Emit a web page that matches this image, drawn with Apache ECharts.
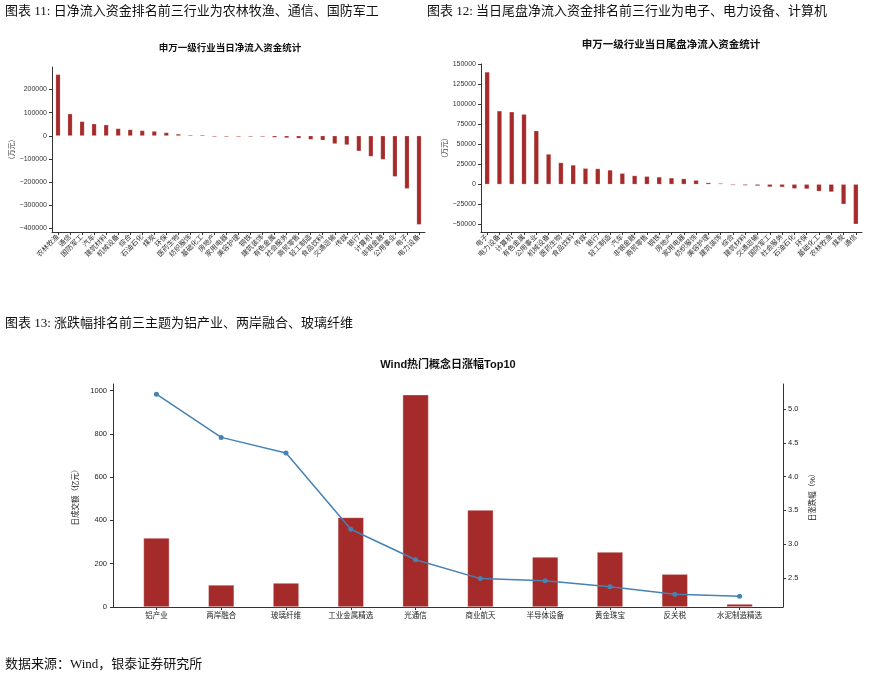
<!DOCTYPE html>
<html>
<head>
<meta charset="utf-8">
<script src="https://cdn.jsdelivr.net/npm/echarts@6/dist/echarts.min.js"></script>
<style>
  html, body { margin: 0; padding: 0; background: #fff; }
  #main { width: 875px; height: 677px; }
</style>
</head>
<body>
<div id="main"></div>
<script>
// 图表11 申万一级行业当日净流入资金（万元）
const cats1 = ["农林牧渔", "通信", "国防军工", "汽车", "建筑材料", "机械设备", "综合", "石油石化", "煤炭", "环保",
  "医药生物", "纺织服饰", "基础化工", "房地产", "家用电器", "美容护理", "钢铁", "建筑装饰", "有色金属", "社会服务",
  "商贸零售", "轻工制造", "食品饮料", "交通运输", "传媒", "银行", "计算机", "非银金融", "公用事业", "电子", "电力设备"];
const flow1 = [265000, 95000, 62000, 52000, 47500, 31500, 27000, 23000, 20000, 14000,
  8000, 600, 300, -500, -1000, -2000, -2500, -3500, -7000, -9000,
  -11000, -16000, -19000, -34500, -39000, -66000, -89000, -102000, -176000, -228000, -383000];
const ticks1 = [-400000, -300000, -200000, -100000, 0, 100000, 200000];

// 图表12 当日尾盘净流入资金（万元）
const cats2 = ["电子", "电力设备", "计算机", "有色金属", "公用事业", "机械设备", "医药生物", "食品饮料", "传媒", "银行",
  "轻工制造", "汽车", "非银金融", "商贸零售", "钢铁", "房地产", "家用电器", "纺织服饰", "美容护理", "建筑装饰",
  "综合", "建筑材料", "交通运输", "国防军工", "社会服务", "石油石化", "环保", "基础化工", "农林牧渔", "煤炭", "通信"];
const flow2 = [140000, 91500, 90300, 87300, 66700, 37600, 27000, 24000, 19900, 19500,
  17800, 13700, 10800, 9900, 9100, 7900, 7000, 5000, 2000, 500,
  -500, -1500, -2000, -3300, -3500, -5400, -5800, -8700, -9500, -24800, -49700];
const ticks2 = [-50000, -25000, 0, 25000, 50000, 75000, 100000, 125000, 150000];

// 图表13 Wind热门概念
const cats3 = ["铝产业", "两岸融合", "玻璃纤维", "工业金属精选", "光通信", "商业航天", "半导体设备", "黄金珠宝", "反关税", "水泥制造精选"];
const amount3 = [319, 102, 111, 414, 981, 448, 231, 254, 152, 14];   // 日成交额（亿元）
const pct3 = [5.22, 4.58, 4.35, 3.22, 2.77, 2.49, 2.46, 2.37, 2.26, 2.23]; // 日涨跌幅（%）
const ticks3L = [0, 200, 400, 600, 800, 1000];
const ticks3R = [2.5, 3.0, 3.5, 4.0, 4.5, 5.0];

const barColor = "#a52a2a";
const axisColor = "#333";
const cjk = "'Liberation Sans', 'Noto Sans CJK SC', sans-serif";
const serif = "'Liberation Serif', 'Noto Sans CJK SC', serif";
const minus = (v) => (v < 0 ? "\u2212" + (-v) : "" + v);

const chart = echarts.init(document.getElementById("main"));

function txt(x, y, text, font, align) {
  return {
    type: "text", x: x, y: y, silent: true,
    style: { text: text, font: font, fill: "#111", align: align || "left", verticalAlign: "middle" },
  };
}

// 轴线不过零点，贴着坐标系边缘
function baseAxisLine() {
  return { show: true, onZero: false, lineStyle: { color: axisColor, width: 1 } };
}

chart.setOption({
  animation: false,
  textStyle: { fontFamily: cjk },
  graphic: [
    txt(5, 12, "图表 11: 日净流入资金排名前三行业为农林牧渔、通信、国防军工", "13px " + serif),
    txt(427, 12, "图表 12: 当日尾盘净流入资金排名前三行业为电子、电力设备、计算机", "13px " + serif),
    txt(230, 48, "申万一级行业当日净流入资金统计", "bold 9.5px " + cjk, "center"),
    txt(671, 45, "申万一级行业当日尾盘净流入资金统计", "bold 10.5px " + cjk, "center"),
    txt(5, 324, "图表 13: 涨跌幅排名前三主题为铝产业、两岸融合、玻璃纤维", "13px " + serif),
    txt(448, 365, "Wind热门概念日涨幅Top10", "bold 11px " + cjk, "center"),
    txt(5, 665, "数据来源：Wind，银泰证券研究所", "13px " + serif),
  ],
  grid: [
    { left: 52, top: 67, width: 373, height: 165 },
    { left: 481, top: 64, width: 381, height: 168 },
    { left: 113, top: 384, width: 670, height: 223 },
  ],
  xAxis: [
    {
      type: "category", gridIndex: 0, data: cats1,
      axisLine: baseAxisLine(),
      axisTick: { show: true, alignWithLabel: true, length: 3, lineStyle: { color: axisColor } },
      axisLabel: { interval: 0, rotate: 45, fontSize: 7, color: "#333", margin: 4 },
    },
    {
      type: "category", gridIndex: 1, data: cats2,
      axisLine: baseAxisLine(),
      axisTick: { show: true, alignWithLabel: true, length: 3, lineStyle: { color: axisColor } },
      axisLabel: { interval: 0, rotate: 45, fontSize: 7, color: "#333", margin: 4 },
    },
    {
      type: "value", gridIndex: 2, min: -0.67, max: 9.67,
      axisLine: baseAxisLine(),
      splitLine: { show: false },
      axisTick: { show: true, length: 3, customValues: [0, 1, 2, 3, 4, 5, 6, 7, 8, 9], lineStyle: { color: axisColor } },
      axisLabel: {
        customValues: [0, 1, 2, 3, 4, 5, 6, 7, 8, 9], fontSize: 7.5, color: "#222", margin: 5,
        formatter: (v) => cats3[Math.round(v)],
      },
    },
  ],
  yAxis: [
    {
      type: "value", gridIndex: 0, min: -415000, max: 297000,
      axisLine: baseAxisLine(), splitLine: { show: false },
      axisTick: { show: true, length: 3, customValues: ticks1, lineStyle: { color: axisColor } },
      axisLabel: { customValues: ticks1, fontSize: 7, color: "#333", margin: 5, formatter: minus },
      name: "（万元）", nameLocation: "middle", nameRotate: 90, nameGap: 31,
      nameTextStyle: { fontSize: 7, color: "#333" },
    },
    {
      type: "value", gridIndex: 1, min: -59500, max: 150000,
      axisLine: baseAxisLine(), splitLine: { show: false },
      axisTick: { show: true, length: 3, customValues: ticks2, lineStyle: { color: axisColor } },
      axisLabel: { customValues: ticks2, fontSize: 7, color: "#333", margin: 5, formatter: minus },
      name: "（万元）", nameLocation: "middle", nameRotate: 90, nameGap: 29,
      nameTextStyle: { fontSize: 7, color: "#333" },
    },
    {
      type: "value", gridIndex: 2, min: 0, max: 1030,
      axisLine: baseAxisLine(), splitLine: { show: false },
      axisTick: { show: true, length: 3, customValues: ticks3L, lineStyle: { color: axisColor } },
      axisLabel: { customValues: ticks3L, fontSize: 7.5, color: "#222", margin: 6, formatter: (v) => "" + v },
      name: "日成交额（亿元）", nameLocation: "middle", nameRotate: 90, nameGap: 24,
      nameTextStyle: { fontSize: 7.5, color: "#222" },
    },
    {
      type: "value", gridIndex: 2, position: "right", min: 2.07, max: 5.37,
      axisLine: baseAxisLine(), splitLine: { show: false },
      axisTick: { show: true, length: 3, customValues: ticks3R, lineStyle: { color: axisColor } },
      axisLabel: { customValues: ticks3R, fontSize: 7.5, color: "#222", margin: 5, formatter: (v) => v.toFixed(1) },
      name: "日涨跌幅（%）", nameLocation: "middle", nameRotate: 90, nameGap: 20,
      nameTextStyle: { fontSize: 7.5, color: "#222" },
    },
  ],
  series: [
    {
      type: "bar", xAxisIndex: 0, yAxisIndex: 0, data: flow1, barWidth: 4.6, barMinHeight: 1,
      itemStyle: { color: barColor, borderColor: "rgba(255,255,255,0.5)", borderWidth: 0.4 },
    },
    {
      type: "bar", xAxisIndex: 1, yAxisIndex: 1, data: flow2, barWidth: 4.8, barMinHeight: 1,
      itemStyle: { color: barColor, borderColor: "rgba(255,255,255,0.5)", borderWidth: 0.4 },
    },
    {
      type: "bar", xAxisIndex: 2, yAxisIndex: 2, barWidth: 26,
      data: amount3.map((v, i) => [i, v]),
      itemStyle: { color: barColor, borderColor: "rgba(255,255,255,0.6)", borderWidth: 0.6 },
    },
    {
      type: "line", xAxisIndex: 2, yAxisIndex: 3,
      data: pct3.map((v, i) => [i, v]),
      symbol: "circle", symbolSize: 5,
      lineStyle: { color: "#4682b4", width: 1.5 },
      itemStyle: { color: "#4682b4" },
    },
  ],
});
</script>
</body>
</html>
